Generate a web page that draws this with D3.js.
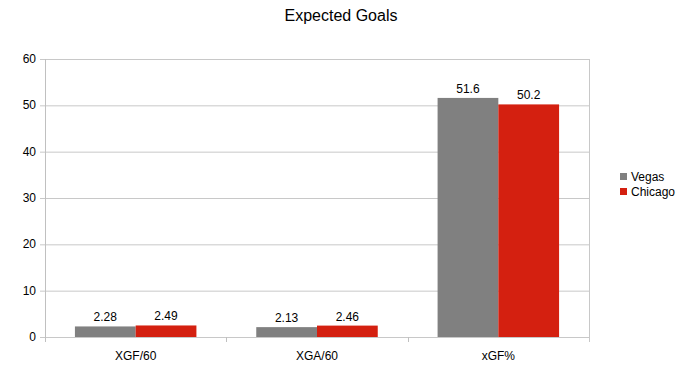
<!DOCTYPE html>
<html><head><meta charset="utf-8">
<script src="https://cdn.jsdelivr.net/npm/d3@7/dist/d3.min.js"></script>
<style>body{margin:0;background:#fff}svg{display:block;font-family:"Liberation Sans",Arial,sans-serif}</style>
</head><body>
<svg id="c" width="688" height="379"></svg>
<script>
const categories = ["XGF/60", "XGA/60", "xGF%"];
const seriesNames = ["Vegas", "Chicago"];
const vegas = [2.28, 2.13, 51.6];
const chicago = [2.49, 2.46, 50.2];
const colors = ["#808080", "#d42010"];
const yTicks = [0, 10, 20, 30, 40, 50, 60];
const title = "Expected Goals";

const svg = d3.select("#c");
const L = 45, R = 589, T = 59, B = 337;
const x = d3.scaleBand().domain(categories).range([L, R]).paddingInner(0).paddingOuter(0);
const y = d3.scaleLinear().domain([0, 60]).range([B, T]);
const series = [vegas, chicago];
const groupFrac = 0.67;

// gridlines
svg.append("g").selectAll("line").data(yTicks).join("line")
  .attr("x1", L - 5).attr("x2", R).attr("y1", d => y(d) + 0.5).attr("y2", d => y(d) + 0.5)
  .attr("stroke", "#c8c8c8").attr("stroke-width", 1);
// vertical borders
svg.append("line").attr("x1", L + 0.5).attr("x2", L + 0.5).attr("y1", T).attr("y2", B + 5).attr("stroke", "#c0c0c0");
svg.append("line").attr("x1", R + 0.5).attr("x2", R + 0.5).attr("y1", T).attr("y2", B + 5).attr("stroke", "#c8c8c8");
// category separators
svg.append("g").selectAll("line").data(categories.slice(1)).join("line")
  .attr("x1", d => Math.round(x(d)) + 0.5).attr("x2", d => Math.round(x(d)) + 0.5)
  .attr("y1", B).attr("y2", B + 5).attr("stroke", "#c0c0c0");

// y labels
svg.append("g").selectAll("text").data(yTicks).join("text")
  .attr("x", L - 9).attr("y", d => y(d) + 4).attr("text-anchor", "end")
  .attr("font-size", 12).attr("fill", "#000").text(d => d);

// bars
const bw = x.bandwidth() * groupFrac / 2;
series.forEach((s, si) => {
  const g = svg.append("g");
  g.selectAll("rect").data(s).join("rect")
    .attr("x", (d, i) => x(categories[i]) + x.bandwidth() * (1 - groupFrac) / 2 + si * bw)
    .attr("width", bw)
    .attr("y", d => y(d)).attr("height", d => B - y(d))
    .attr("fill", colors[si]);
  g.selectAll("text").data(s).join("text")
    .attr("x", (d, i) => x(categories[i]) + x.bandwidth() * (1 - groupFrac) / 2 + si * bw + bw / 2)
    .attr("y", d => y(d) - 5).attr("text-anchor", "middle")
    .attr("font-size", 12).attr("fill", "#000").text(d => d);
});

// x labels
svg.append("g").selectAll("text").data(categories).join("text")
  .attr("x", d => x(d) + x.bandwidth() / 2).attr("y", 360).attr("text-anchor", "middle")
  .attr("font-size", 12).attr("fill", "#000").text(d => d);

// title
svg.append("text").attr("x", 341).attr("y", 21).attr("text-anchor", "middle")
  .attr("font-size", 16).attr("fill", "#000").text(title);

// legend
const lg = svg.append("g");
seriesNames.forEach((n, i) => {
  lg.append("rect").attr("x", 620).attr("y", 173 + i * 15).attr("width", 7).attr("height", 7).attr("fill", colors[i]);
  lg.append("text").attr("x", 631).attr("y", 181 + i * 15).attr("font-size", 12).attr("fill", "#000").text(n);
});
</script>
</body></html>
